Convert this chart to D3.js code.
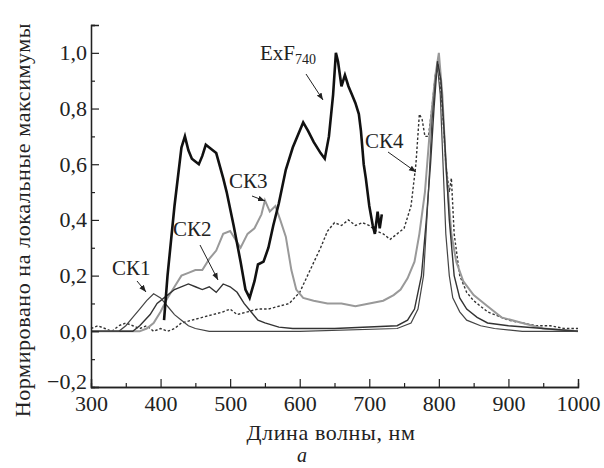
<!DOCTYPE html><html><head><meta charset="utf-8"><script src="https://cdn.jsdelivr.net/npm/d3@7"></script>
<style>body{margin:0;background:#fff}text{font-family:"Liberation Serif","DejaVu Serif",serif;fill:#222}</style></head><body><svg id="c" width="604" height="468"></svg><script>
const xTicks=[300,400,500,600,700,800,900,1000];
const yTicks=[-0.2,0,0.2,0.4,0.6,0.8,1.0];
const exfX=[405,410,420,430,435,440,445,450,455,460,465,470,480,490,495,505,515,522,528,535,540,548,555,562,570,580,590,600,605,612,620,630,636,642,648,652,655,660,665,670,675,680,685,688,692,695,700,705,708,712,715,718];
const exfY=[0.04,0.2,0.45,0.66,0.70,0.65,0.62,0.61,0.60,0.63,0.67,0.66,0.64,0.55,0.5,0.38,0.25,0.15,0.12,0.18,0.24,0.25,0.30,0.38,0.46,0.58,0.66,0.72,0.75,0.72,0.68,0.64,0.62,0.70,0.85,1.0,0.97,0.88,0.92,0.88,0.85,0.82,0.78,0.72,0.6,0.55,0.45,0.38,0.35,0.43,0.37,0.42];
const ck1X=[300,340,350,360,370,380,390,400,410,420,430,440,450,470,600,740,760,770,778,785,790,795,798,802,806,810,815,820,830,840,860,880,920,1000];
const ck1Y=[0,0,0.02,0.05,0.08,0.11,0.135,0.12,0.09,0.06,0.04,0.02,0.01,0,0,0.01,0.03,0.08,0.2,0.5,0.75,0.9,0.95,0.85,0.6,0.35,0.2,0.12,0.07,0.04,0.02,0.01,0,0];
const ck2X=[300,360,370,385,395,405,420,440,450,460,470,480,490,500,510,520,530,540,550,570,590,650,740,755,765,775,782,788,793,798,803,808,815,822,830,840,855,870,900,950,1000];
const ck2Y=[0,0,0.02,0.06,0.1,0.12,0.15,0.17,0.16,0.15,0.16,0.14,0.17,0.16,0.14,0.1,0.07,0.04,0.03,0.015,0.01,0.01,0.02,0.04,0.08,0.2,0.4,0.6,0.8,0.97,0.9,0.7,0.4,0.2,0.12,0.08,0.05,0.03,0.02,0.01,0];
const ck3X=[300,370,380,390,400,410,420,430,440,450,460,470,480,490,500,510,515,525,535,545,550,557,565,572,580,588,595,605,620,640,660,680,700,720,735,745,755,765,772,780,788,795,800,805,810,818,825,835,850,870,890,920,950,1000];
const ck3Y=[0,0,0.01,0.03,0.07,0.12,0.16,0.2,0.21,0.22,0.22,0.26,0.29,0.35,0.36,0.32,0.30,0.35,0.37,0.42,0.47,0.43,0.45,0.40,0.34,0.22,0.15,0.12,0.11,0.10,0.10,0.09,0.10,0.11,0.13,0.15,0.19,0.25,0.35,0.5,0.75,0.92,1.0,0.85,0.6,0.35,0.25,0.18,0.13,0.09,0.05,0.03,0.01,0];
const ck4X=[300,310,320,330,340,350,360,370,380,390,400,410,420,430,445,460,475,490,500,510,525,540,555,570,585,600,615,630,640,650,660,670,680,690,700,710,720,730,740,750,760,767,772,776,780,785,790,795,800,805,810,815,818,822,830,840,850,860,870,880,900,920,940,960,980,1000];
const ck4Y=[0.01,0.02,0.01,0.0,0.02,0.03,0.02,0.01,0.02,0.0,0.01,0.0,0.01,0.03,0.04,0.05,0.06,0.07,0.08,0.06,0.07,0.08,0.08,0.09,0.1,0.14,0.22,0.3,0.36,0.39,0.38,0.40,0.38,0.39,0.38,0.36,0.35,0.33,0.35,0.37,0.45,0.6,0.78,0.76,0.70,0.70,0.8,0.92,0.96,0.8,0.6,0.5,0.55,0.35,0.2,0.14,0.11,0.09,0.07,0.06,0.04,0.03,0.02,0.02,0.01,0.01];
const svg=d3.select("#c");
const x=d3.scaleLinear().domain([300,1000]).range([91,578]);
const y=d3.scaleLinear().domain([-0.2,1.1]).range([387,25]);
const line=(xs,ys)=>d3.line().x((d,i)=>x(xs[i])).y((d,i)=>y(ys[i]))(xs);
const draw=(xs,ys,c,w,dash)=>svg.append("path").attr("d",line(xs,ys)).attr("fill","none").attr("stroke",c).attr("stroke-width",w).attr("stroke-dasharray",dash||null);
draw(ck4X,ck4Y,"#333",1.4,"2.5,2");
draw(ck3X,ck3Y,"#999",2);
draw(ck2X,ck2Y,"#333",1.4);
draw(ck1X,ck1Y,"#444",1.2);
draw(exfX,exfY,"#111",2.6);
const ga=svg.append("g").attr("transform","translate(91,0)");
ga.call(d3.axisLeft(y).tickValues(yTicks).tickSize(-8).tickFormat(d=>d3.format(".1f")(d).replace(".",",").replace("-","−")));
ga.append("g").call(d3.axisLeft(y).tickValues([-0.1,0.1,0.3,0.5,0.7,0.9,1.1]).tickSize(-4).tickFormat(""));
const gb=svg.append("g").attr("transform","translate(0,387)");
gb.call(d3.axisBottom(x).tickValues(xTicks).tickSize(-8).tickFormat(d3.format("d")));
gb.append("g").call(d3.axisBottom(x).tickValues([350,450,550,650,750,850,950]).tickSize(-4).tickFormat(""));
svg.selectAll(".domain").attr("stroke","#222").attr("stroke-width",1.3);
svg.selectAll(".tick line").attr("stroke","#222").attr("stroke-width",1.2);
ga.selectAll("text").attr("font-size",22).attr("x",-4).attr("font-family","Liberation Serif");
ga.selectAll(".tick").filter(d=>d===-0.2).select("text").attr("dy","0.05em");
gb.selectAll("text").attr("font-size",22).attr("y",8).attr("font-family","Liberation Serif");
svg.append("text").attr("x",331).attr("y",440).attr("text-anchor","middle").attr("font-size",22).attr("letter-spacing",0.6).text("Длина волны, нм");
svg.append("text").attr("transform","translate(30,220) rotate(-90)").attr("text-anchor","middle").attr("font-size",22).attr("letter-spacing",0.6).text("Нормировано на локальные максимумы");
svg.append("text").attr("x",302).attr("y",462).attr("text-anchor","middle").attr("font-size",20).attr("font-style","italic").text("а");
svg.append("defs").append("marker").attr("id","ar").attr("viewBox","0 0 10 10").attr("refX",10).attr("refY",5).attr("markerWidth",7).attr("markerHeight",7).attr("orient","auto").append("path").attr("d","M0,1L10,5L0,9z").attr("fill","#222");
const lab=(t,tx,ty,x1,y1,x2,y2)=>{svg.append("text").attr("x",tx).attr("y",ty).attr("font-size",21).text(t);
svg.append("line").attr("x1",x1).attr("y1",y1).attr("x2",x2).attr("y2",y2).attr("stroke","#222").attr("stroke-width",1).attr("marker-end","url(#ar)");};
const t=svg.append("text").attr("x",260).attr("y",60).attr("font-size",21);
t.append("tspan").text("ExF");t.append("tspan").attr("font-size",14).attr("dy",4).text("740");
svg.append("line").attr("x1",306).attr("y1",74).attr("x2",323).attr("y2",100).attr("stroke","#222").attr("marker-end","url(#ar)");
lab("СК4",365,148,388,152,416,172);
lab("СК3",229,188,252,196,265,201);
lab("СК2",173,236,200,245,218,280);
lab("СК1",112,275,137,281,146,292);
</script></body></html>
